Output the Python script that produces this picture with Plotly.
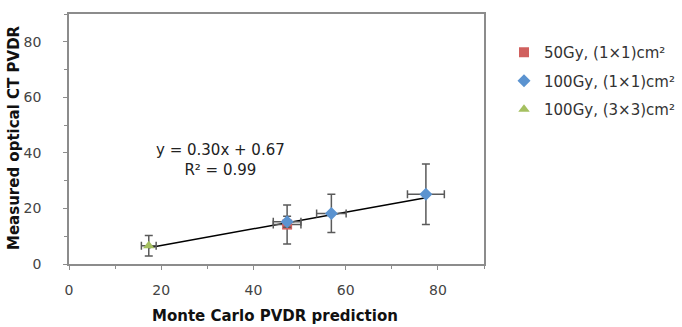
import plotly.graph_objects as go

# Monte Carlo prediction (x) vs measured optical CT PVDR (y), with uncertainties
series_names = ["50Gy, (1×1)cm²", "100Gy, (1×1)cm²", "100Gy, (3×3)cm²"]
mc_50_1x1 = [47.3]
ct_50_1x1 = [14.2]
mc_err_50_1x1 = [3.0]
ct_err_50_1x1 = [7.0]

mc_100_1x1 = [47.3, 56.9, 77.4]
ct_100_1x1 = [15.2, 18.2, 25.1]
mc_err_100_1x1 = [3.0, 3.2, 4.0]
ct_err_100_1x1 = [2.0, 6.9, 10.9]

mc_100_3x3 = [17.3]
ct_100_3x3 = [6.6]
mc_err_100_3x3 = [1.6]
ct_err_100_3x3 = [3.7]

# linear fit reported on the chart
fit_slope = 0.30
fit_intercept = 0.67
fit_r2 = 0.99
fit_x = [17.3, 77.4]

x_ticks = [0, 20, 40, 60, 80]
y_ticks = [0, 20, 40, 60, 80]

colors = ["#D0605E", "#5B93D0", "#A5C060"]
err_color = "#5a5a5a"
FONT = "DejaVu Sans, sans-serif"

W, H = 682, 327
M_L, M_R, M_T, M_B = 69, 198, 14, 63
PLOT_W = W - M_L - M_R
PLOT_H = H - M_T - M_B


def px_to_paper_x(px):
    return (px - M_L) / PLOT_W


def px_to_paper_y(py):
    return (H - M_B - py) / PLOT_H


fig = go.Figure()

# trend line
fig.add_trace(go.Scatter(
    x=fit_x, y=[fit_slope * v + fit_intercept for v in fit_x],
    mode="lines", line=dict(color="black", width=1.5),
    showlegend=False, hoverinfo="skip"))

series = [
    (mc_50_1x1, ct_50_1x1, mc_err_50_1x1, ct_err_50_1x1, "square", 10),
    (mc_100_1x1, ct_100_1x1, mc_err_100_1x1, ct_err_100_1x1, "diamond", 10),
    (mc_100_3x3, ct_100_3x3, mc_err_100_3x3, ct_err_100_3x3, "triangle-up", 10),
]
for i, (xs, ys, ex, ey, sym, sz) in enumerate(series):
    fig.add_trace(go.Scatter(
        x=xs, y=ys, mode="markers", name=series_names[i],
        legendgroup=str(i),
        marker=dict(symbol=sym, size=sz, color=colors[i], line=dict(width=0)),
        error_x=dict(type="data", array=ex, visible=True, color=err_color,
                     thickness=1.5, width=4),
        error_y=dict(type="data", array=ey, visible=True, color=err_color,
                     thickness=1.5, width=4),
    ))

fig.add_annotation(
    x=32.8, y=37.5, xref="x", yref="y", showarrow=False,
    xanchor="center", yanchor="middle",
    text=f"y = {fit_slope:.2f}x + {fit_intercept:.2f}<br>R² = {fit_r2:.2f}",
    font=dict(family=FONT, size=15, color="#222"), align="center")

# axis titles
fig.add_annotation(
    x=px_to_paper_x(275), y=px_to_paper_y(316), xref="paper", yref="paper",
    xanchor="center", yanchor="middle", showarrow=False,
    text="<b>Monte Carlo PVDR prediction</b>",
    font=dict(family=FONT, size=15, color="#111"))
fig.add_annotation(
    x=px_to_paper_x(14), y=px_to_paper_y(138), xref="paper", yref="paper",
    xanchor="center", yanchor="middle", showarrow=False, textangle=-90,
    text="<b>Measured optical CT PVDR</b>",
    font=dict(family=FONT, size=15, color="#111"))

axis_common = dict(
    showline=True, linecolor="#8c8c8c", linewidth=1.5, mirror=True,
    showgrid=False, zeroline=False, ticks="outside", ticklen=4,
    tickcolor="#8c8c8c", tickfont=dict(family=FONT, size=14, color="#444"),
    minor=dict(ticks="outside", ticklen=3, tickcolor="#8c8c8c", dtick=10),
)
fig.update_xaxes(range=[0, 90], tickvals=x_ticks, ticklabelstandoff=8, **axis_common)
fig.update_yaxes(range=[0, 90], tickvals=y_ticks, ticklabelstandoff=19, **axis_common)

fig.update_layout(
    width=W, height=H,
    margin=dict(l=M_L, r=M_R, t=M_T, b=M_B, autoexpand=False),
    plot_bgcolor="white", paper_bgcolor="white",
    legend=dict(x=px_to_paper_x(504), y=px_to_paper_y(36), xanchor="left", yanchor="top",
                font=dict(family=FONT, size=15, color="#333"),
                traceorder="grouped", tracegroupgap=6, itemwidth=30,
                bgcolor="rgba(0,0,0,0)"),
)

fig.write_html("out.html")
